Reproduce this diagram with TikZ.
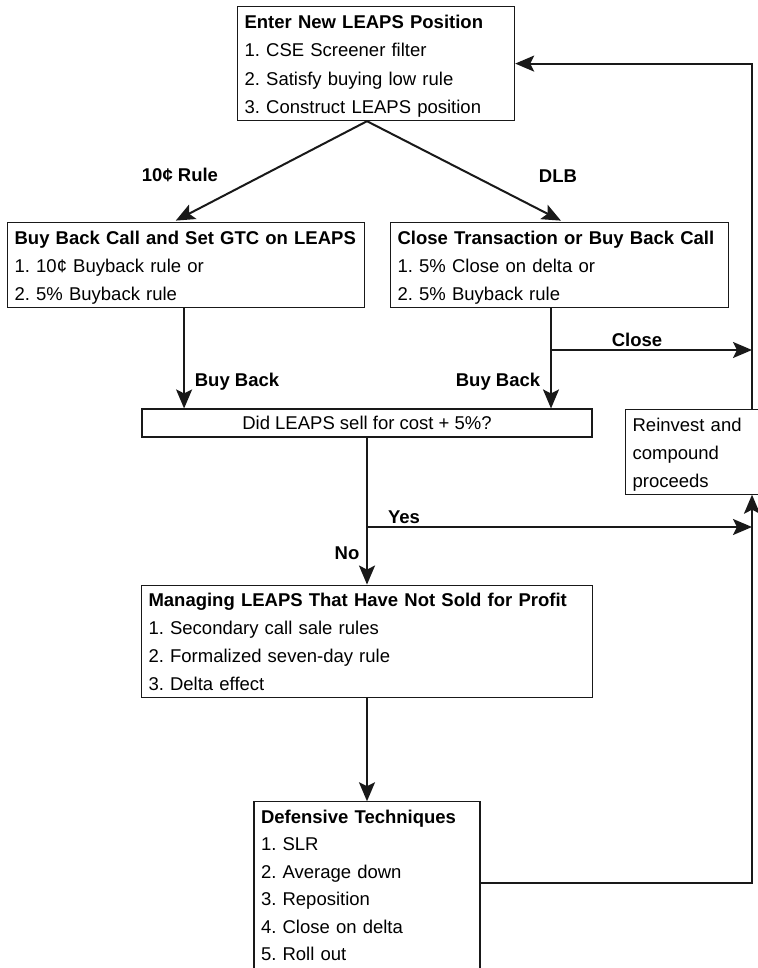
\documentclass[tikz,border=0pt]{standalone}
\usepackage{fontspec}
\setmainfont{Liberation Sans}
\usetikzlibrary{positioning, arrows.meta}
\frenchspacing
\newcommand{\toprow}{\noindent\rule{0pt}{21.5pt}}
\newcommand{\lastrow}{\rule[-7pt]{0pt}{7pt}}

\begin{document}
\begin{tikzpicture}[
        x=1pt, y=-1pt,
        listbox/.style = {draw, black!90, line width=1.2pt, anchor=north west, align=left, inner xsep=7pt, inner ysep=0pt, text=black, font=\fontsize{18.5}{28}\selectfont},
        askbox/.style = {draw, black!90, line width=1.1pt, minimum width=450pt, minimum height=28pt, inner sep=0pt, text height=13pt, text depth=0pt, text=black, font=\fontsize{18.5}{28}\selectfont},
        lbl/.style = {inner sep=0pt, text height=13pt, text depth=0pt, font=\fontsize{18.5}{22}\selectfont\bfseries},
        arrow/.style = {-{Stealth[length=19pt, width=16pt, inset=4pt]}, line width=2pt, black!90}
    ]
        \fill[white] (0,0) rectangle (757,968);
        \useasboundingbox (0,0) rectangle (757,968);
        \node[listbox, text width=263pt, font=\fontsize{18.5}{28.5}\selectfont] (enter) at (237,6) {\toprow\textbf{Enter New LEAPS Position}\\1. CSE Screener filter\\2. Satisfy buying low rule\\3. Construct LEAPS position\lastrow};
        \node[listbox, text width=343pt] (buyback) at (7,222) {\toprow\textbf{Buy Back Call and Set GTC on LEAPS}\\1. 10¢ Buyback rule or\\2. 5\% Buyback rule\lastrow};
        \node[listbox, text width=324pt] (closetx) at (390,222) {\toprow\textbf{Close Transaction or Buy Back Call}\\1. 5\% Close on delta or\\2. 5\% Buyback rule\lastrow};
        \node[askbox] (did) at (367,423) {Did LEAPS sell for cost + 5\%?};
        \node[listbox, text width=136pt] (reinvest) at (625,409) {\toprow Reinvest and\\compound\\proceeds\lastrow};
        \node[listbox, text width=437pt, below=147pt of did] (manage) {\toprow\textbf{Managing LEAPS That Have Not Sold for Profit}\\1. Secondary call sale rules\\2. Formalized seven-day rule\\3. Delta effect\lastrow};
        \node[listbox, text width=212pt, below=103pt of manage, font=\fontsize{18.5}{27.5}\selectfont] (defend) {\toprow\textbf{Defensive Techniques}\\1. SLR\\2. Average down\\3. Reposition\\4. Close on delta\\5. Roll out\rule[-20pt]{0pt}{20pt}};
        \coordinate (rail) at (752,0);
        \coordinate (closefork) at (551,350);
        \coordinate (yesfork) at (367,527);
        \coordinate (defout) at (480,883);
        \coordinate (bdrop) at ([xshift=-2pt]buyback.south);
        \coordinate (cdrop) at (closefork |- closetx.south);
        \draw[arrow, shorten >=3pt] (enter.south -| did.north) -- ([xshift=-13pt]buyback.north);
        \draw[arrow, shorten >=3pt] (enter.south -| did.north) -- ([xshift=4pt]closetx.north);
        \draw[arrow] (bdrop) -- (bdrop |- did.north);
        \draw[arrow] (cdrop) -- (cdrop |- did.north);
        \draw[arrow] (closefork) -- (closefork -| rail);
        \draw[arrow] (rail |- reinvest.north) |- (enter.east);
        \draw[arrow] (did.south) -- (manage.north);
        \draw[arrow] (yesfork) -- (yesfork -| rail);
        \draw[arrow] (manage.south) -- (defend.north);
        \draw[arrow] (defend.east |- defout) -| (rail |- reinvest.south);
        \node[lbl] (tenrule) at (180,175) {10¢ Rule};
        \node[lbl] (dlb) at (558,176) {DLB};
        \node[lbl] (buyleft) at (237,380) {Buy Back};
        \node[lbl] (buyright) at (498,380) {Buy Back};
        \node[lbl] (close) at (637,340) {Close};
        \node[lbl] (yes) at (404,517) {Yes};
        \node[lbl] (no) at (347,553) {No};
    \end{tikzpicture}
\end{document}
